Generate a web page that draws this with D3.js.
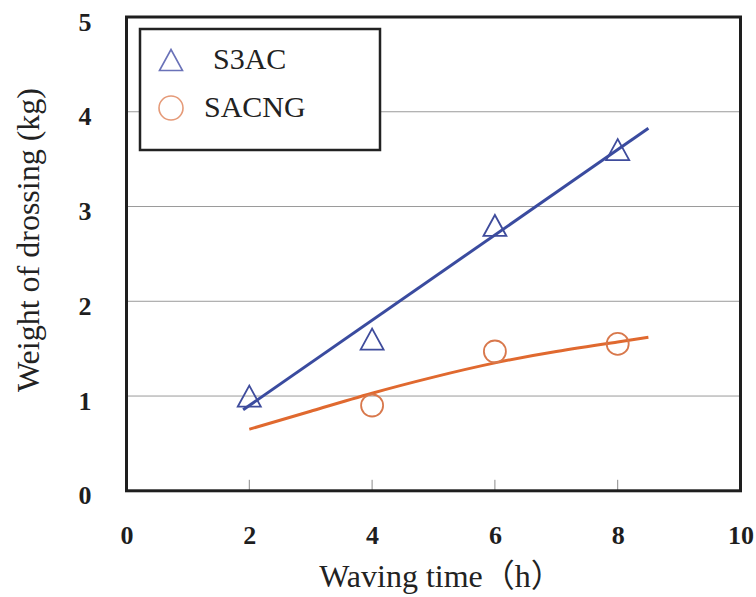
<!DOCTYPE html>
<html lang="en">
	<head>
		<meta charset="UTF-8" />
		<title>Weight of drossing</title>
		<style>
			body { margin: 0; background: #fff; }
			svg { display: block; }
		</style>
	</head>
	<body>
		<svg id="svg" width="756" height="597"></svg>
		<script src="https://d3js.org/d3.v7.min.js"></script>
		<script>
			// Data
			const times = [2, 4, 6, 8];
			const s3ac = [1.0, 1.6, 2.8, 3.6];
			const sacngTimes = [4, 6, 8];
			const sacng = [0.9, 1.47, 1.55];

			// trend lines
			const s3acTrendX = [1.9, 8.5];
			const s3acTrendY = [0.855, 3.825];
			const sacngTrendX = [2.0, 3.0, 4.0, 5.0, 6.0, 7.0, 8.0, 8.5];
			const sacngTrendY = [0.65, 0.84, 1.03, 1.2, 1.35, 1.47, 1.57, 1.62];

			const xTicks = [0, 2, 4, 6, 8, 10];
			const yTicks = [0, 1, 2, 3, 4, 5];
			const gridTicks = [1, 2, 3, 4];
			const innerXTicks = [2, 4, 6, 8];
			const seriesNames = ['S3AC', 'SACNG'];

			const width = 756;
			const height = 597;
			const margin = { top: 17, right: 15.5, bottom: 106.2, left: 126.5 };
			const serif = '"Liberation Serif", "Times New Roman", serif';
			const blue = '#3a4b9f';
			const orange = '#e0692f';

			const svg = d3.select('#svg');

			// Scales
			const xscale = d3
				.scaleLinear()
				.domain([0, 10])
				.range([margin.left, width - margin.right]);
			const yscale = d3
				.scaleLinear()
				.domain([0, 5])
				.range([height - margin.bottom, margin.top]);

			// grid lines
			svg
				.append('g')
				.selectAll('line')
				.data(gridTicks)
				.join('line')
				.attr('x1', xscale(0))
				.attr('x2', xscale(10))
				.attr('y1', (d) => yscale(d))
				.attr('y2', (d) => yscale(d))
				.attr('stroke', '#9a9a9a')
				.attr('stroke-width', 1);

			// small inner ticks on the bottom edge
			svg
				.append('g')
				.selectAll('line')
				.data(innerXTicks)
				.join('line')
				.attr('x1', (d) => xscale(d))
				.attr('x2', (d) => xscale(d))
				.attr('y1', yscale(0))
				.attr('y2', yscale(0) - 11)
				.attr('stroke', '#8a8a8a')
				.attr('stroke-width', 1);

			// Axis labels
			const bottomAxis = d3
				.axisBottom(xscale)
				.tickValues(xTicks)
				.tickFormat(d3.format('d'))
				.tickSize(0)
				.tickPadding(35);
			const leftAxis = d3
				.axisLeft(yscale)
				.tickValues(yTicks)
				.tickFormat(d3.format('d'))
				.tickSize(0)
				.tickPadding(35);

			const gx = svg
				.append('g')
				.attr('transform', `translate(0, ${yscale(0)})`)
				.call(bottomAxis);
			const gy = svg
				.append('g')
				.attr('transform', `translate(${xscale(0)}, 0)`)
				.call(leftAxis);
			gy.selectAll('text').attr('dy', '0.5em');
			[gx, gy].forEach((g) => {
				g.select('.domain').remove();
				g.selectAll('text')
					.attr('font-family', serif)
					.attr('font-weight', 'bold')
					.attr('font-size', 26)
					.attr('fill', '#1e1e1e');
			});

			// trend lines
			const linegen = d3
				.line()
				.x((d) => xscale(d[0]))
				.y((d) => yscale(d[1]))
				.curve(d3.curveNatural);

			svg
				.append('path')
				.attr('d', linegen(d3.zip(s3acTrendX, s3acTrendY)))
				.attr('fill', 'none')
				.attr('stroke', blue)
				.attr('stroke-width', 3);

			svg
				.append('path')
				.attr('d', linegen(d3.zip(sacngTrendX, sacngTrendY)))
				.attr('fill', 'none')
				.attr('stroke', orange)
				.attr('stroke-width', 3);

			// markers
			function triangle(cx, cy) {
				return `M${cx - 11.5},${cy + 10.5}L${cx},${cy - 10.5}L${cx + 11.5},${cy + 10.5}Z`;
			}

			svg
				.append('g')
				.selectAll('path')
				.data(d3.zip(times, s3ac))
				.join('path')
				.attr('d', (d) => triangle(xscale(d[0]), yscale(d[1])))
				.attr('fill', 'none')
				.attr('stroke', '#3f4c9c')
				.attr('stroke-width', 1.8);

			svg
				.append('g')
				.selectAll('circle')
				.data(d3.zip(sacngTimes, sacng))
				.join('circle')
				.attr('cx', (d) => xscale(d[0]))
				.attr('cy', (d) => yscale(d[1]))
				.attr('r', 11)
				.attr('fill', 'none')
				.attr('stroke', '#d8784c')
				.attr('stroke-width', 1.8);

			// legend
			const legend = svg.append('g');
			legend
				.append('rect')
				.attr('x', 140)
				.attr('y', 29)
				.attr('width', 240)
				.attr('height', 121)
				.attr('fill', '#fff')
				.attr('stroke', '#222')
				.attr('stroke-width', 2.5);
			legend
				.append('path')
				.attr('d', triangle(171, 60))
				.attr('fill', 'none')
				.attr('stroke', '#6a72b8')
				.attr('stroke-width', 1.6);
			legend
				.append('circle')
				.attr('cx', 171)
				.attr('cy', 108)
				.attr('r', 12)
				.attr('fill', 'none')
				.attr('stroke', '#e59a78')
				.attr('stroke-width', 1.6);
			legend
				.selectAll('text')
				.data(seriesNames)
				.join('text')
				.attr('x', (d, i) => (i === 0 ? 213 : 204))
				.attr('y', (d, i) => (i === 0 ? 69 : 117))
				.attr('font-family', serif)
				.attr('font-size', 30)
				.attr('fill', '#222')
				.text((d) => d);

			// frame
			svg
				.append('rect')
				.attr('x', xscale(0))
				.attr('y', yscale(5))
				.attr('width', xscale(10) - xscale(0))
				.attr('height', yscale(0) - yscale(5))
				.attr('fill', 'none')
				.attr('stroke', '#1e1e1e')
				.attr('stroke-width', 3);

			// axis titles
			svg
				.append('text')
				.attr('x', 441)
				.attr('y', 587)
				.attr('text-anchor', 'middle')
				.attr('font-family', serif + ', "Noto Sans CJK JP"')
				.attr('font-size', 32)
				.attr('fill', '#222')
				.text('Waving time（h）');

			svg
				.append('text')
				.attr('transform', 'translate(39, 240) rotate(-90)')
				.attr('text-anchor', 'middle')
				.attr('font-family', serif)
				.attr('font-size', 32)
				.attr('fill', '#222')
				.text('Weight of drossing (kg)');
		</script>
	</body>
</html>
